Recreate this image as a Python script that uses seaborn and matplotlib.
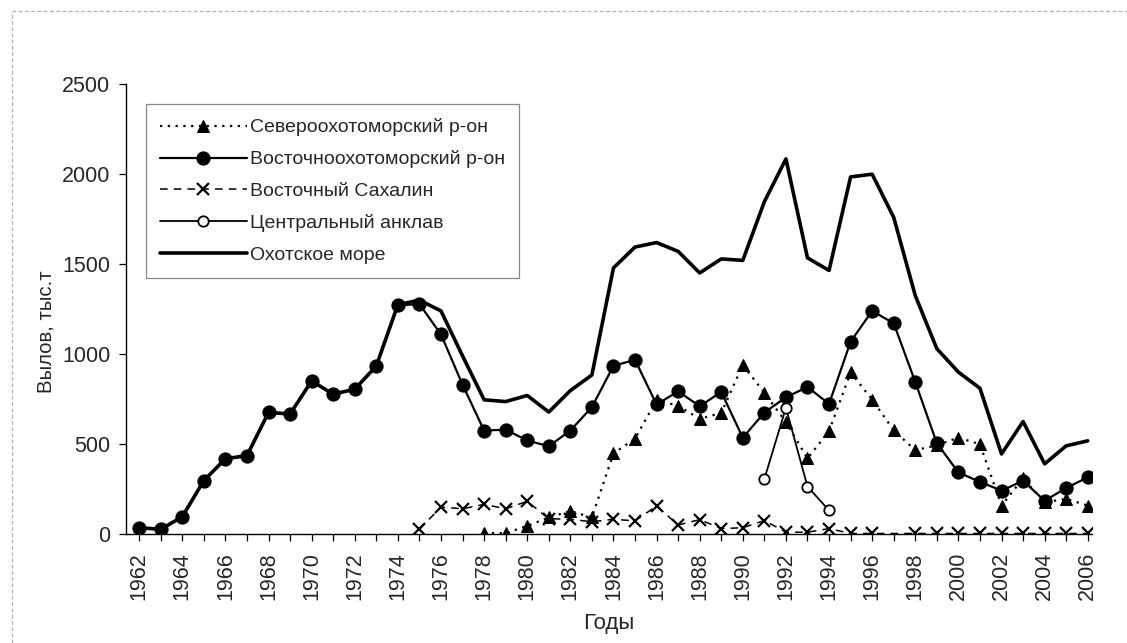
import numpy as np
import pandas as pd
import matplotlib
matplotlib.use("Agg")
import matplotlib.pyplot as plt
from matplotlib.lines import Line2D
import seaborn as sns

years = list(range(1962, 2007))

# Восточноохотоморский р-он (1962-2006)
east_okhotsk = [35, 26, 96, 297, 418, 436, 676, 667, 851, 777, 805, 934, 1271, 1278,
                1109, 830, 575, 580, 520, 488, 575, 705, 935, 968, 720, 793, 710, 790,
                535, 675, 760, 817, 723, 1069, 1240, 1171, 845, 505, 342, 290, 241,
                296, 185, 256, 315]

# Североохотоморский р-он (1978-2006)
north_years = list(range(1978, 2007))
north_okhotsk = [5, 5, 45, 92, 128, 92, 448, 530, 744, 713, 640, 673, 940, 785, 622,
                 420, 572, 898, 747, 576, 466, 493, 536, 499, 158, 309, 176, 195, 158]

# Восточный Сахалин
sakh_years = [1975, 1976, 1977, 1978, 1979, 1980, 1981, 1982, 1983, 1984, 1985, 1986,
              1987, 1988, 1989, 1990, 1991, 1992, 1993, 1994, 1995, 1996,
              1998, 1999, 2000, 2001, 2002, 2003, 2004, 2005, 2006]
east_sakhalin = [26, 150, 140, 165, 140, 182, 85, 82, 68, 82, 73, 156,
                 50, 80, 30, 35, 75, 10, 10, 30, 3, 3,
                 3, 3, 3, 3, 3, 3, 3, 3, 3]

# Центральный анклав
central_years = [1991, 1992, 1993, 1994]
central_enclave = [306, 702, 264, 131]

# Охотское море (1962-2006)
okhotsk_sea = [35, 26, 96, 297, 418, 436, 676, 667, 851, 777, 805, 934, 1275, 1300,
               1240, 990, 746, 736, 770, 678, 797, 884, 1479, 1595, 1620, 1571, 1451,
               1529, 1521, 1847, 2085, 1535, 1465, 1985, 2000, 1760, 1325, 1030, 900,
               810, 445, 625, 390, 490, 518]

labels = ["Североохотоморский р-он", "Восточноохотоморский р-он",
          "Восточный Сахалин", "Центральный анклав", "Охотское море"]
x_ticks = list(range(1962, 2007, 2))
y_ticks = [0, 500, 1000, 1500, 2000, 2500]

sns.set_theme(style="ticks")
plt.rcParams['font.family'] = ['Liberation Sans', 'DejaVu Sans']

fig = plt.figure(figsize=(11.27, 6.43), dpi=100)
ax = fig.add_axes([0.112, 0.1695, 0.857, 0.6995])

df_sea = pd.DataFrame({"year": years, "v": okhotsk_sea})
df_east = pd.DataFrame({"year": years, "v": east_okhotsk})
df_north = pd.DataFrame({"year": north_years, "v": north_okhotsk})
df_sakh = pd.DataFrame({"year": sakh_years, "v": east_sakhalin})
df_cen = pd.DataFrame({"year": central_years, "v": central_enclave})

sns.lineplot(data=df_sea, x="year", y="v", ax=ax, color="black", linewidth=2.6,
             label=labels[4], zorder=2, errorbar=None)
sns.lineplot(data=df_north, x="year", y="v", ax=ax, color="black", linewidth=1.6,
             linestyle=(0, (1, 2.5)), marker="^", markersize=9, markeredgecolor="black",
             markerfacecolor="black", label=labels[0], zorder=3, errorbar=None)
sns.lineplot(data=df_sakh, x="year", y="v", ax=ax, color="black", linewidth=1.1,
             linestyle=(0, (5, 4)), marker="x", markersize=9, markeredgewidth=1.6,
             markeredgecolor="black", label=labels[2], zorder=3, errorbar=None)
sns.lineplot(data=df_east, x="year", y="v", ax=ax, color="black", linewidth=1.6,
             marker="o", markersize=9.5, markeredgecolor="black", markerfacecolor="black",
             label=labels[1], zorder=4, errorbar=None)
sns.lineplot(data=df_cen, x="year", y="v", ax=ax, color="black", linewidth=1.3,
             marker="o", markersize=7.5, markerfacecolor="white", markeredgecolor="black",
             markeredgewidth=1.3, label=labels[3], zorder=5, errorbar=None)

ax.set_xlim(1961.4, 2006.2)
ax.set_ylim(0, 2500)
ax.set_xticks(x_ticks)
ax.set_xticks(years, minor=True)
ax.set_xticklabels([str(y) for y in x_ticks], rotation=90, fontsize=15.5)
ax.set_yticks(y_ticks)
ax.set_yticklabels([str(v) for v in y_ticks], fontsize=15.5)
ax.tick_params(axis="y", which="major", direction="out", length=5, width=0.9,
               color="black", pad=6.5)
ax.tick_params(axis="x", which="major", direction="out", length=5, width=0.9,
               color="black", pad=8)
ax.tick_params(axis="x", which="minor", direction="out", length=5, width=0.9,
               color="black")
ax.set_xlabel("Годы", fontsize=16)
ax.set_ylabel("Вылов, тыс.т", fontsize=14.7)
ax.yaxis.set_label_coords(-0.073, 0.45)
ax.xaxis.set_label_coords(0.5, -0.176)
for s in ["top", "right"]:
    ax.spines[s].set_visible(False)
for s in ["left", "bottom"]:
    ax.spines[s].set_color("black")
    ax.spines[s].set_linewidth(1.0)

handles, labs = ax.get_legend_handles_labels()
order = [labs.index(l) for l in labels]
leg = ax.legend([handles[i] for i in order], [labs[i] for i in order],
                loc="upper left", bbox_to_anchor=(0.02, 0.955), borderaxespad=0,
                fontsize=14.0, handlelength=4.5, labelspacing=0.72, handletextpad=0.15,
                borderpad=0.72, fancybox=False, frameon=True)
leg.get_frame().set_edgecolor("#888888")
leg.get_frame().set_linewidth(0.9)
leg.get_frame().set_facecolor("white")
leg.get_frame().set_alpha(1)

# faint scan frame (top and left edges)
fig.add_artist(Line2D([0.0107, 1.0], [1 - 11 / 643, 1 - 11 / 643], transform=fig.transFigure,
                      color="#b0b0b0", linewidth=0.9, linestyle=(0, (3, 2))))
fig.add_artist(Line2D([0.0107, 0.0107], [0.0, 1 - 11 / 643], transform=fig.transFigure,
                      color="#b0b0b0", linewidth=0.9, linestyle=(0, (3, 2))))

fig.savefig("out.png", dpi=100, facecolor="white")
